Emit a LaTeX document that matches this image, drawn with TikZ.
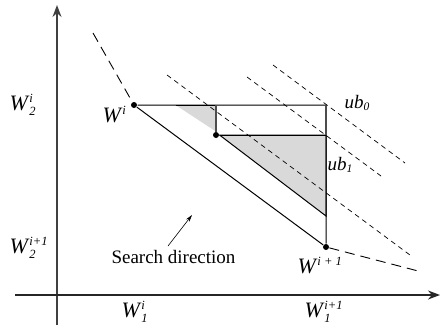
\documentclass[tikz,border=0pt]{standalone}
\usepackage{amsmath}
\usepackage{fontspec}
\setmainfont{Liberation Serif}
\usetikzlibrary{arrows.meta}
\DeclareMathSizes{22}{22}{12.5}{10}
\DeclareMathSizes{19}{19}{11.5}{9}
\newcommand{\wlab}[3]{\textit{W}$_{\textit{#2}}^{\textit{#3}}$}

\begin{document}
\begin{tikzpicture}[x = 1pt, y = -1pt, line width = 1pt,
  dot/.style = {circle, fill, inner sep = 0pt, minimum size = 6pt},
  lab/.style = {font = \fontsize{22}{24}\selectfont, inner sep = 0pt, anchor = base west},
  sublab/.style = {lab, font = \fontsize{19}{22}\selectfont},
  ubline/.style = {line width = 0.7pt, dash pattern = on 5pt off 4pt},
  front/.style = {line width = 0.9pt, dash pattern = on 10pt off 6pt}]
\useasboundingbox (0,0) rectangle (440,325);
% axes
\draw[black!75, line width = 1.5pt, -{Stealth[length = 12pt, width = 9pt]}] (57,325) -- (57,5);
\draw[black!85, line width = 1.3pt, -{Stealth[length = 12pt, width = 9pt]}] (15,295) -- (440,295);
% points
\node[dot] at (134,105) (Wi) {};
\node[dot] at (326,247) (Wn) {};
\node[dot] at (216,135) (M) {};
\coordinate (c0) at (326,105);
\coordinate (c1) at (326,135);
\coordinate (a) at (175.5,105);
\coordinate (b) at (216,105);
\coordinate (g) at (326,216);
% shaded parts
\filldraw[fill = black!15] (a) -- (b) -- (M) -- cycle;
\filldraw[fill = black!15] (M) -- (c1) -- (g) -- cycle;
\draw (Wi) -- (c0) -- (Wn) -- (Wi);
\draw[black!70, line width = 1.3pt] (b) -- (M);
\draw (M) -- (c1);
\draw[black!70, line width = 1.3pt] (c0) -- (c1);
% bounds
\draw[ubline] (167,75) -- (410,255);
\draw[ubline] (247,77) -- (381,176);
\draw[ubline] (273,65) -- (405,163);
\coordinate (t0) at (93,33);
\coordinate (t1) at (422,272);
\draw[front] (t0) -- (Wi);
\draw[front] (Wn) -- (t1);
% labels
\node[lab] at (9,110) (w2i) {\wlab{W}{2}{i}};
\node[lab] at (9,253) (w2n) {\wlab{W}{2}{i+1}};
\node[lab] at (121,317) (w1i) {\wlab{W}{1}{i}};
\node[lab] at (304,317) (w1n) {\wlab{W}{1}{i+1}};
\node[lab] at (102,122) (lWi) {\textit{W}$^{\textit{i}}$};
\node[lab] at (297,273) (lWn) {\textit{W}$^{\textit{i + 1}}$};
\node[sublab] at (344,108) (ub0) {\textit{ub}$_{\textit{0}}$};
\node[sublab] at (327,170) (ub1) {\textit{ub}$_{\textit{1}}$};
\node[sublab] at (111,263) (sd) {Search direction};
\coordinate (s0) at (168,246);
\coordinate (s1) at (192,215);
\draw[line width = 0.6pt, -{Stealth[length = 7pt, width = 4pt]}] (s0) -- (s1);
\end{tikzpicture}
\end{document}
